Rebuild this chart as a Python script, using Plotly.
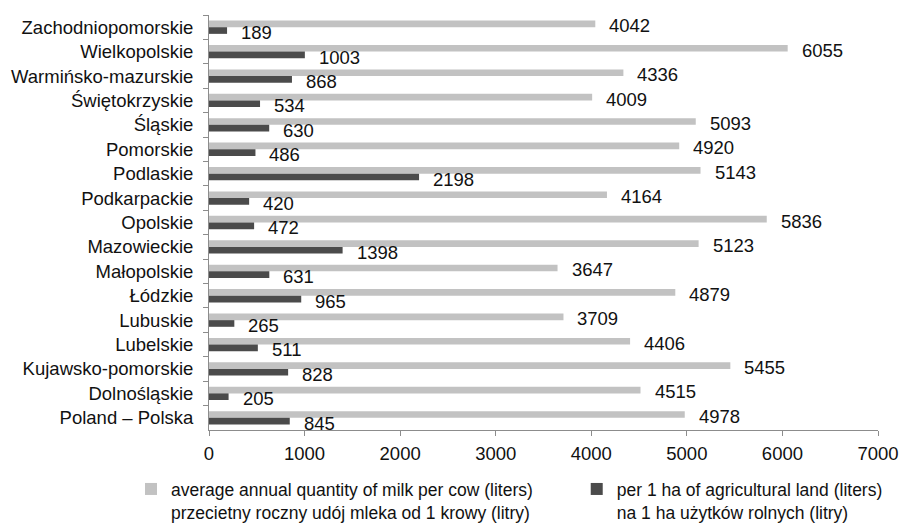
import plotly.graph_objects as go

regions = [
    "Zachodniopomorskie", "Wielkopolskie", "Warmińsko-mazurskie", "Świętokrzyskie",
    "Śląskie", "Pomorskie", "Podlaskie", "Podkarpackie", "Opolskie", "Mazowieckie",
    "Małopolskie", "Łódzkie", "Lubuskie", "Lubelskie", "Kujawsko-pomorskie",
    "Dolnośląskie", "Poland – Polska",
]
milk_per_cow = [4042, 6055, 4336, 4009, 5093, 4920, 5143, 4164, 5836, 5123,
                3647, 4879, 3709, 4406, 5455, 4515, 4978]
milk_per_ha = [189, 1003, 868, 534, 630, 486, 2198, 420, 472, 1398,
               631, 965, 265, 511, 828, 205, 845]

# non-breaking spaces widen the first legend entry a little
name_cow = ("average annual quantity of milk per cow (liters)" + "\u00a0" * 8 +
            "<br>przecietny roczny udój mleka od 1 krowy (litry)")
name_ha = "per 1 ha of agricultural land (liters)<br>na 1 ha użytków rolnych (litry)"

LIGHT = "#c2c2c2"
DARK = "#4b4b4b"
AXIS = "#8c8c8c"
FONT = "Liberation Sans, Arial, sans-serif"
SIZE = 18.5

fig = go.Figure()
fig.add_trace(go.Bar(y=regions, x=milk_per_cow, orientation="h", name=name_cow,
                     marker=dict(color=LIGHT, line=dict(width=0))))
fig.add_trace(go.Bar(y=regions, x=milk_per_ha, orientation="h", name=name_ha,
                     marker=dict(color=DARK, line=dict(width=0))))

# value labels next to each bar end
annotations = []
for i, r in enumerate(regions):
    for v, off in ((milk_per_cow[i], -0.14), (milk_per_ha[i], 0.14)):
        annotations.append(dict(
            x=v, y=i + off, xref="x", yref="y", text=str(v), showarrow=False,
            xanchor="left", yanchor="middle", xshift=12, yshift=-2,
            font=dict(family=FONT, size=SIZE, color="#111111"),
        ))

n = len(regions)
fig.update_layout(
    width=901, height=524,
    margin=dict(l=209, r=23, t=15, b=94, autoexpand=False),
    paper_bgcolor="white", plot_bgcolor="white",
    barmode="group", bargap=0.455, bargroupgap=0,
    font=dict(family=FONT, size=SIZE, color="#111111"),
    showlegend=True,
    legend=dict(orientation="h", xref="paper", yref="paper",
                x=-0.1166, xanchor="left", y=-0.099, yanchor="top",
                valign="top",
                font=dict(family=FONT, size=17.5, color="#111111"),
                itemwidth=30, tracegroupgap=0, borderwidth=0),
    annotations=annotations,
)
fig.update_xaxes(range=[0, 7000], dtick=1000, showgrid=False, zeroline=False,
                 showline=True, linecolor=AXIS, linewidth=1,
                 ticks="outside", ticklen=5, tickcolor=AXIS,
                 ticklabelstandoff=2,
                 tickfont=dict(family=FONT, size=SIZE, color="#111111"))
fig.update_yaxes(categoryorder="array", categoryarray=regions,
                 range=[n - 0.5, -0.5], autorange=False,
                 showgrid=False, showline=True, linecolor=AXIS, linewidth=1,
                 ticks="outside", ticklen=5, tickcolor=AXIS, tickson="boundaries",
                 ticklabelstandoff=11,
                 tickfont=dict(family=FONT, size=SIZE, color="#111111"))

fig.write_html("out.html")
